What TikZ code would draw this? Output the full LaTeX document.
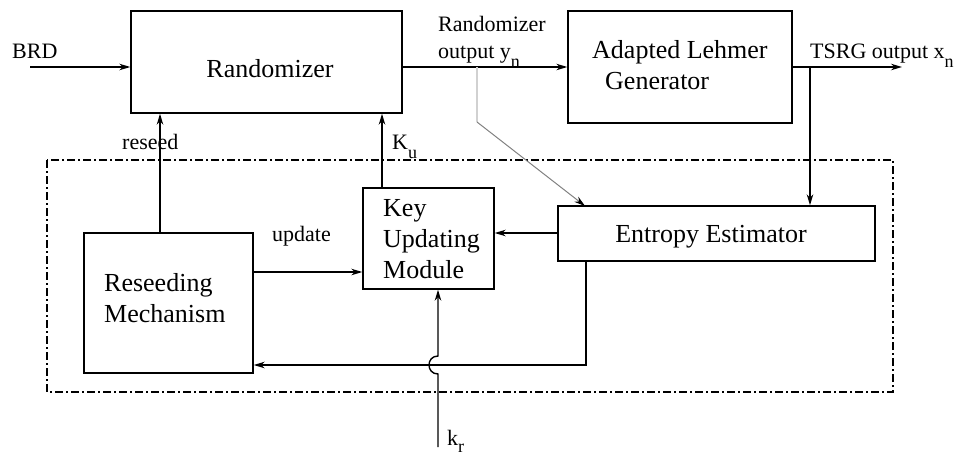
\documentclass[tikz,border=0pt]{standalone}
\usepackage{fontspec}
\setmainfont{Liberation Serif}
\usetikzlibrary{arrows.meta,calc}

% lowered subscript as printed in the block labels
\newcommand\lowsub[1]{\raisebox{-9pt}{\fontsize{18}{18}\selectfont #1}}

\begin{document}
\begin{tikzpicture}[x=1pt,y=-1pt,
  box/.style={draw,line width=1.4pt,inner sep=0pt},
  big/.style={font=\fontsize{26}{31}\selectfont,inner sep=0pt,align=left},
  lbl/.style={font=\fontsize{22}{27}\selectfont,inner sep=0pt,align=left},
  flow/.style={line width=1.4pt,-{Stealth[length=11pt,width=6.5pt]}},
  region/.style={line width=1.2pt,dash pattern=on 8pt off 3pt on 2pt off 3pt}]
\useasboundingbox (0,0) rectangle (963,455);

% supervising part (dash-dotted frame)
\draw[region] (47,160) rectangle (893,392);

% blocks
\node[box,minimum width=271pt,minimum height=102pt] (rand) at (266.5,62) {};
\node[box,minimum width=224pt,minimum height=112pt] (lehm) at (680,67) {};
\node[box,minimum width=317pt,minimum height=55pt] (entr) at (716.5,233.5) {};
\node[box,minimum width=131pt,minimum height=101pt] (keyu) at (428.5,238.5) {};
\node[box,minimum width=169pt,minimum height=140pt] (rsd) at (168.5,303) {};

% block texts (multi-line nodes are placed by the baseline of their last line)
\node[big,anchor=base] (trand) at (270,77) {Randomizer};
\node[big,anchor=base west] (tlehm) at (592,89) {Adapted Lehmer\\\hspace{13pt}Generator};
\node[big,anchor=base] (tentr) at (711,242) {Entropy Estimator};
\node[big,anchor=base west] (tkey) at (383,278) {Key\\Updating\\Module};
\node[big,anchor=base west] (trsd) at (104,322) {Reseeding\\Mechanism};

% free ends and branch points
\coordinate (brd) at (30,67);
\coordinate (tsrg) at (902,67);
\coordinate (xsplit) at (810,67);
\coordinate (ysplit) at (477,67);
\coordinate (ybend) at (477,122);
\coordinate (kr) at (438,447);
\coordinate (fbk) at (586,365);

% main data path
\draw[flow] (brd) -- (rand.west |- brd);
\draw[flow] (rand.east |- brd) -- (lehm.west |- brd);
\draw[flow] (lehm.east |- tsrg) -- (tsrg);
\draw[flow] (xsplit) -- (entr.north -| xsplit);

% randomizer output tapped to the estimator
\draw[line width=2pt,black!18] (ysplit) -- (ybend);
\draw[line width=1pt,black!50,-{Stealth[length=11pt,width=6.5pt,color=black,fill=black]}] (ybend) -- (585,206);

% control paths
\draw[flow] (rsd.north -| 160,0) -- (rand.south -| 160,0);
\draw[flow] (keyu.north -| 382,0) -- (rand.south -| 382,0);
\draw[flow] (rsd.east |- 0,272) -- (keyu.west |- 0,272);
\draw[flow] (entr.west |- 0,233) -- (keyu.east |- 0,233);
\draw[flow] (entr.south -| fbk) -- (fbk) -- (rsd.east |- fbk);

% external key input, hopping over the feedback line
\draw[flow] (kr) -- (438,374) .. controls (426,374) and (426,356) .. (438,356) -- (keyu.south -| kr);

% labels
\node[lbl,anchor=base west] (lbrd) at (12,58) {BRD};
\node[lbl,anchor=base west] (lyn) at (438,58) {Randomizer\\output y\lowsub{n}};
\node[lbl,anchor=base west] (lxn) at (810,58) {TSRG output x\lowsub{n}};
\node[lbl,anchor=base west] (lrs) at (122,149) {reseed};
\node[lbl,anchor=base west] (lku) at (392,149) {K\lowsub{u}};
\node[lbl,anchor=base west] (lup) at (272,241) {update};
\node[lbl,anchor=base west] (lkr) at (447,445) {k\raisebox{-7pt}{\fontsize{18}{18}\selectfont r}};
\end{tikzpicture}
\end{document}
